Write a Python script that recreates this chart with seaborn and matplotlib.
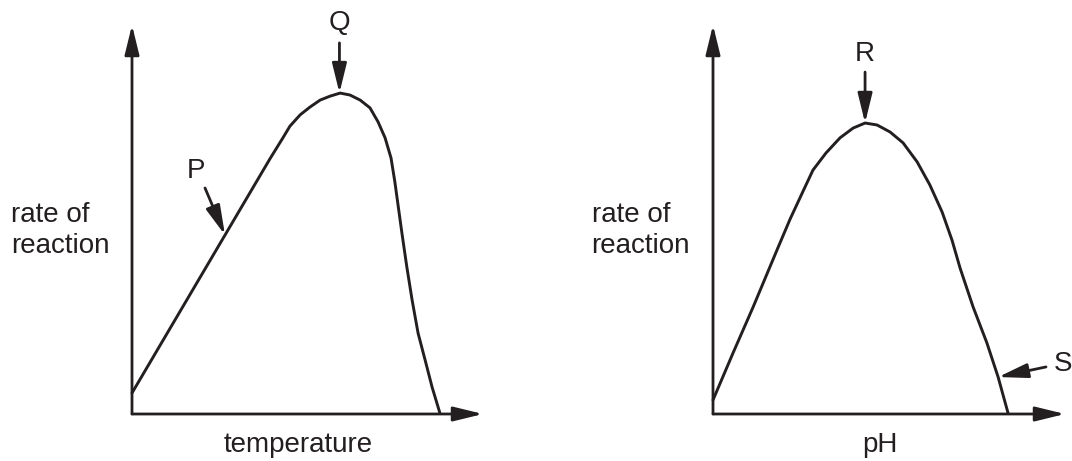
import numpy as np
import pandas as pd
import seaborn as sns
import matplotlib.pyplot as plt

# -------------------------------
#  Datos (unidades relativas 0-100 de cada eje)
# -------------------------------
temp_x = [0, 26.5, 39.3, 43.0, 45.0, 47.9, 50.7, 53.6, 56.4, 59.3, 62.1, 65.0,
          67.8, 70.1, 72.1, 73.8, 74.9, 75.8, 76.9, 78.3, 79.8, 81.5, 83.5,
          85.5, 87.7]
temp_rate = [5.4, 46.0, 65.6, 71.0, 74.0, 76.9, 78.9, 80.7, 81.7, 82.5, 82.0,
             80.7, 78.7, 75.1, 71.0, 65.8, 59.6, 53.7, 46.5, 37.8, 29.3, 20.8,
             13.9, 6.9, 0.3]

ph_x = [0, 5.7, 11.4, 18.2, 21.9, 25.6, 28.4, 32.1, 36.1, 39.8, 43.2, 46.6,
        50.3, 54.0, 58.0, 61.6, 65.1, 67.9, 70.2, 73.9, 77.8, 81.0, 83.8]
ph_rate = [3.6, 15.7, 27.5, 42.2, 50.1, 57.3, 62.7, 67.1, 71.0, 73.5, 74.8,
           74.3, 72.5, 69.7, 64.8, 58.9, 51.9, 44.7, 37.5, 27.5, 18.3, 9.5, 0.3]

x_labels = ["temperature", "pH"]
y_label = "rate of\nreaction"

ink = "#231f20"

sns.set_style("white")
plt.rcParams["font.family"] = ["Liberation Sans", "DejaVu Sans"]

fig = plt.figure(figsize=(10.72, 4.61), dpi=100)
ax1 = fig.add_axes([132 / 1072, 47 / 461, 351 / 1072, 389 / 461])
ax2 = fig.add_axes([713 / 1072, 47 / 461, 352 / 1072, 389 / 461])

axis_arrow = dict(arrowstyle="-|>,head_length=0.9,head_width=0.22", color=ink,
                  lw=2.0, mutation_scale=20, shrinkA=0, shrinkB=0)
label_arrow = dict(arrowstyle="-|>,head_length=0.9,head_width=0.22", color=ink,
                   lw=2.0, mutation_scale=20, shrinkA=0, shrinkB=0)

curvas = [(ax1, temp_x, temp_rate), (ax2, ph_x, ph_rate)]
for i, (ax, xs, ys) in enumerate(curvas):
    df = pd.DataFrame({"x": xs, "y": ys})
    sns.lineplot(data=df, x="x", y="y", ax=ax, sort=False, color=ink, lw=2.1,
                 solid_joinstyle="round", solid_capstyle="round", clip_on=False)
    ax.set_xlim(0, 100)
    ax.set_ylim(0, 100)
    ax.axis("off")
    # ejes con flecha
    ax.annotate("", xy=(100, 0), xytext=(0, 0), arrowprops=axis_arrow,
                annotation_clip=False)
    ax.annotate("", xy=(0, 100), xytext=(0, 0), arrowprops=axis_arrow,
                annotation_clip=False)
    ax.text(47.4, -8.0, x_labels[i], ha="center", va="center", fontsize=20,
            color=ink, clip_on=False)
    ax.text(-34.5, 47.3, y_label, ha="left", va="center", fontsize=20,
            color=ink, linespacing=1.25, clip_on=False)

# Etiquetas P, Q, R, S
ax1.annotate("", xy=(26.5, 46.0), xytext=(20.8, 58.1), arrowprops=label_arrow)
ax1.text(18.2, 62.5, "P", ha="center", va="center", fontsize=20, color=ink)
ax1.annotate("", xy=(59.1, 82.5), xytext=(59.1, 95.4), arrowprops=label_arrow)
ax1.text(59.1, 100.5, "Q", ha="center", va="center", fontsize=20, color=ink,
         clip_on=False)
ax2.annotate("", xy=(43.2, 74.8), xytext=(43.2, 87.9), arrowprops=label_arrow)
ax2.text(43.2, 92.5, "R", ha="center", va="center", fontsize=20, color=ink)
ax2.annotate("", xy=(81.0, 9.5), xytext=(94.6, 12.1), arrowprops=label_arrow,
             annotation_clip=False)
ax2.text(96.9, 12.9, "S", ha="left", va="center", fontsize=20, color=ink,
         clip_on=False)

fig.savefig("out.png", dpi=100)
